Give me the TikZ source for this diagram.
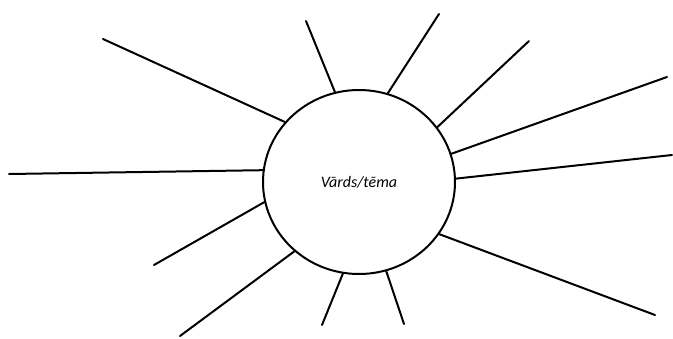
\documentclass[tikz,border=0pt]{standalone}
\usepackage{fontspec}
\setmainfont{Carlito}
\usetikzlibrary{shapes.geometric}

\begin{document}
\begin{tikzpicture}[x=1pt, y=-1pt,
    ray/.style={line width=2pt, black, line cap=round},
    topicbox/.style={ellipse, draw, line width=2pt, minimum width=192pt,
        minimum height=184pt, inner sep=0pt, font=\fontsize{16}{19}\selectfont\itshape},
]
    \useasboundingbox (0,0) rectangle (673,338);

    % Centre
    \node[topicbox] (topic) at (359,182) {Vārds/tēma};

    % Free ends of the rays
    \coordinate (r1) at (103,39);
    \coordinate (r2) at (306,21);
    \coordinate (r3) at (439,14);
    \coordinate (r4) at (529,41);
    \coordinate (r5) at (667,77);
    \coordinate (r6) at (672,155);
    \coordinate (r7) at (655,315);
    \coordinate (r8) at (404,324);
    \coordinate (r9) at (322,325);
    \coordinate (r10) at (180,336);
    \coordinate (r11) at (154,265);
    \coordinate (r12) at (9,174);

    % Rays
    \foreach \ang/\tip in {141/r1, 105/r2, 72/r3, 35/r4, 17/r5, 2/r6,
                          -33/r7, -73/r8, 260/r9, 227/r10, 192/r11, 173/r12}
        \draw[ray] (topic.\ang) -- (\tip);

\end{tikzpicture}
\end{document}
